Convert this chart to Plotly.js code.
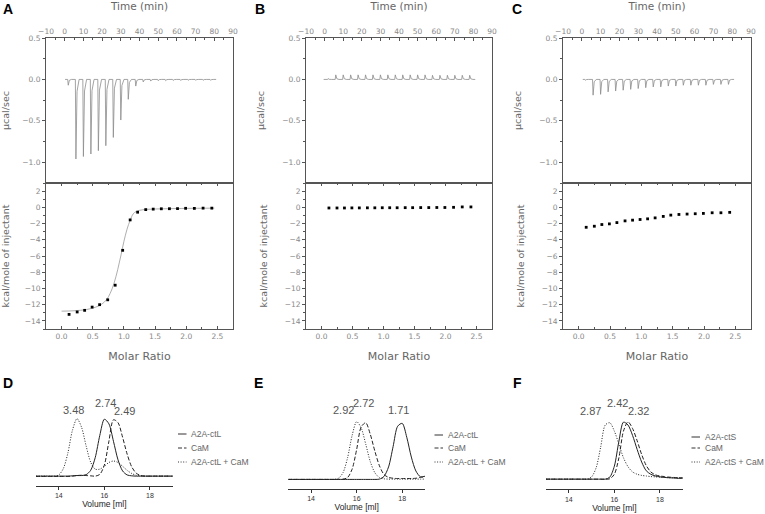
<!DOCTYPE html>
<html>
<head>
<meta charset="utf-8">
<script src="https://cdn.plot.ly/plotly-3.0.1.min.js"></script>
<style>
  html, body { margin: 0; padding: 0; background: #fff; }
  #myDiv { width: 765px; height: 514px; }
</style>
</head>
<body>
<div id="myDiv"></div>
<script>
// ITC raw data: injection times (min) and peak heights (ucal/sec)
var injTimes = [1.6, 5.7, 9.7, 13.7, 17.7, 21.7, 25.7, 29.7, 33.7, 37.7, 41.7, 45.7, 49.7, 53.7, 57.7, 61.7, 65.7, 69.7, 73.7, 77.7];
var peaksA = [-0.07, -0.96, -0.93, -0.90, -0.86, -0.80, -0.70, -0.49, -0.24, -0.08, -0.03, -0.02, -0.015, -0.015, -0.012, -0.012, -0.01, -0.01, -0.01, -0.01];
var peaksB = [0.01, 0.055, 0.055, 0.055, 0.055, 0.055, 0.055, 0.055, 0.055, 0.055, 0.055, 0.055, 0.055, 0.055, 0.05, 0.05, 0.05, 0.05, 0.05, 0.05];
var peaksC = [-0.01, -0.19, -0.18, -0.15, -0.14, -0.13, -0.12, -0.11, -0.10, -0.09, -0.09, -0.08, -0.08, -0.07, -0.07, -0.07, -0.07, -0.06, -0.06, -0.06];

// integrated heats (kcal/mole of injectant)
var molarRatio = [0.12, 0.25, 0.37, 0.49, 0.61, 0.74, 0.86, 0.98, 1.10, 1.22, 1.35, 1.47, 1.60, 1.73, 1.86, 1.99, 2.13, 2.27, 2.41];
var heatA = [-13.2, -12.9, -12.7, -12.3, -12.0, -11.4, -9.6, -5.3, -1.55, -0.6, -0.28, -0.22, -0.18, -0.17, -0.16, -0.12, -0.13, -0.1, -0.1];
var heatB = [-0.08, -0.08, -0.08, -0.07, -0.07, -0.06, -0.06, -0.05, -0.05, -0.05, -0.04, -0.04, -0.03, -0.03, -0.02, -0.02, 0.0, 0.05, 0.05];
var heatC = [-2.46, -2.33, -2.12, -2.04, -1.88, -1.67, -1.58, -1.5, -1.42, -1.3, -1.12, -0.96, -0.88, -0.83, -0.79, -0.75, -0.67, -0.67, -0.62];
var fitX = [0.0, 0.2, 0.4, 0.55, 0.65, 0.72, 0.78, 0.84, 0.9, 0.95, 1.0, 1.05, 1.1, 1.15, 1.2, 1.3, 1.45, 1.7, 2.0, 2.45];
var fitA = [-12.8, -12.75, -12.6, -12.3, -11.9, -11.4, -10.6, -9.4, -7.7, -6.0, -4.2, -2.7, -1.6, -0.8, -0.5, -0.3, -0.22, -0.17, -0.13, -0.1];

// SEC elution profiles (normalised absorbance)
var volume = [13.0, 13.2, 13.4, 13.6, 13.8, 14.0, 14.2, 14.4, 14.6, 14.8, 15.0, 15.2, 15.4, 15.6, 15.8, 16.0, 16.2, 16.4, 16.6, 16.8, 17.0, 17.2, 17.4, 17.6, 17.8, 18.0, 18.2, 18.4, 18.6, 18.8, 19.0];
var ctL_D = [0.01, 0.01, 0.01, 0.01, 0.01, 0.01, 0.01, 0.01, 0.015, 0.02, 0.02, 0.035, 0.11, 0.33, 0.71, 0.99, 0.91, 0.61, 0.29, 0.10, 0.03, 0.015, 0.01, 0.01, 0.01, 0.01, 0.01, 0.01, 0.01, 0.01, 0.01];
var cam_D = [0.005, 0.005, 0.005, 0.005, 0.005, 0.005, 0.005, 0.005, 0.01, 0.02, 0.025, 0.02, 0.015, 0.01, 0.04, 0.2, 0.61, 0.98, 0.93, 0.68, 0.39, 0.17, 0.06, 0.02, 0.01, 0.01, 0.01, 0.01, 0.01, 0.01, 0.01];
var mix_D = [0.01, 0.01, 0.01, 0.01, 0.01, 0.03, 0.14, 0.41, 0.80, 1.0, 0.85, 0.53, 0.25, 0.13, 0.13, 0.18, 0.245, 0.27, 0.245, 0.18, 0.11, 0.056, 0.025, 0.015, 0.01, 0.01, 0.01, 0.01, 0.01, 0.01, 0.01];
var ctL_E = [0.005, 0.005, 0.005, 0.005, 0.005, 0.005, 0.005, 0.005, 0.005, 0.005, 0.005, 0.005, 0.005, 0.005, 0.005, 0.005, 0.005, 0.005, 0.005, 0.005, 0.01, 0.056, 0.22, 0.57, 0.92, 0.97, 0.73, 0.39, 0.15, 0.05, 0.06];
var cam_E = [0.005, 0.005, 0.005, 0.005, 0.005, 0.005, 0.005, 0.005, 0.005, 0.005, 0.005, 0.005, 0.01, 0.037, 0.18, 0.52, 0.91, 0.98, 0.78, 0.49, 0.24, 0.09, 0.04, 0.025, 0.02, 0.02, 0.02, 0.02, 0.025, 0.04, 0.05];
var mix_E = [0.005, 0.005, 0.005, 0.005, 0.005, 0.005, 0.005, 0.005, 0.005, 0.005, 0.005, 0.024, 0.12, 0.375, 0.76, 1.0, 0.89, 0.61, 0.31, 0.12, 0.036, 0.015, 0.01, 0.01, 0.01, 0.01, 0.01, 0.01, 0.01, 0.01, 0.01];
var ctS_F = [0.005, 0.005, 0.005, 0.005, 0.005, 0.005, 0.005, 0.005, 0.005, 0.005, 0.005, 0.005, 0.005, 0.005, 0.04, 0.23, 0.66, 0.99, 0.94, 0.76, 0.52, 0.30, 0.15, 0.09, 0.06, 0.045, 0.035, 0.03, 0.025, 0.02, 0.02];
var cam_F = [0.005, 0.005, 0.005, 0.005, 0.005, 0.005, 0.005, 0.005, 0.005, 0.005, 0.005, 0.005, 0.005, 0.005, 0.011, 0.09, 0.375, 0.835, 0.995, 0.88, 0.67, 0.43, 0.24, 0.13, 0.08, 0.06, 0.05, 0.04, 0.035, 0.03, 0.03];
var mix_F = [0.005, 0.005, 0.005, 0.005, 0.005, 0.005, 0.005, 0.005, 0.005, 0.005, 0.044, 0.2, 0.56, 0.94, 0.98, 0.835, 0.61, 0.375, 0.22, 0.13, 0.09, 0.07, 0.06, 0.05, 0.045, 0.04, 0.035, 0.03, 0.03, 0.025, 0.025];

var peakLabelsD = ['3.48', '2.74', '2.49'];
var peakLabelsE = ['2.92', '2.72', '1.71'];
var peakLabelsF = ['2.87', '2.42', '2.32'];
var legendD = ['A2A-ctL', 'CaM', 'A2A-ctL + CaM'];
var legendF = ['A2A-ctS', 'CaM', 'A2A-ctS + CaM'];

var W = 765, H = 514;
function px(x) { return x / W; }
function py(y) { return 1 - y / H; }

var DASH = '4px,2px', DOT = '1px,1.6px';

// build a thermogram line from injection peaks
function thermogram(peaks, tStart, tEnd, xa, ya) {
  var x = [tStart], y = [0];
  for (var i = 0; i < injTimes.length; i++) {
    var t = injTimes[i], p = peaks[i];
    x.push(t, t + 0.3, t + 0.9, t + 2.0);
    y.push(0, p, p * 0.15, 0);
  }
  x.push(tEnd); y.push(0);
  return {x: x, y: y, xaxis: xa, yaxis: ya, type: 'scatter', mode: 'lines',
    line: {color: '#8c8c8c', width: 0.8}, hoverinfo: 'skip'};
}

function points(vals, xa, ya) {
  return {x: molarRatio, y: vals, xaxis: xa, yaxis: ya, type: 'scatter', mode: 'markers',
    marker: {symbol: 'square', size: 2.8, color: '#000'}};
}

function secLine(vals, dash, xa, ya) {
  return {x: volume, y: vals, xaxis: xa, yaxis: ya, type: 'scatter', mode: 'lines',
    line: {color: '#222', width: 1, dash: dash, shape: 'spline', smoothing: 0.8}};
}

var data = [
  thermogram(peaksA, 0.2, 81, 'x', 'y'),
  {x: fitX, y: fitA, xaxis: 'x2', yaxis: 'y2', type: 'scatter', mode: 'lines',
    line: {color: '#999', width: 0.8, shape: 'spline'}},
  points(heatA, 'x2', 'y2'),
  thermogram(peaksB, -0.5, 81, 'x3', 'y3'),
  points(heatB, 'x4', 'y4'),
  thermogram(peaksC, 0.5, 81, 'x5', 'y5'),
  points(heatC, 'x6', 'y6'),
  secLine(ctL_D, 'solid', 'x7', 'y7'),
  secLine(cam_D, DASH, 'x7', 'y7'),
  secLine(mix_D, DOT, 'x7', 'y7'),
  secLine(ctL_E, 'solid', 'x8', 'y8'),
  secLine(cam_E, DASH, 'x8', 'y8'),
  secLine(mix_E, DOT, 'x8', 'y8'),
  secLine(ctS_F, 'solid', 'x9', 'y9'),
  secLine(cam_F, DASH, 'x9', 'y9'),
  secLine(mix_F, DOT, 'x9', 'y9')
];

var tickFont = {family: 'DejaVu Sans', size: 7.5, color: '#888'};
var titleFont = {family: 'DejaVu Sans', size: 10.5, color: '#666'};

function timeAxis(dom, anchor) {
  return {domain: dom, anchor: anchor, side: 'top', range: [-10, 90], dtick: 10,
    ticks: 'inside', ticklen: 3, tickcolor: '#555', minor: {dtick: 5, ticks: 'inside', ticklen: 2, tickcolor: '#555'},
    showline: true, mirror: true, linecolor: '#555', linewidth: 1, showgrid: false, zeroline: false,
    tickfont: tickFont, title: {text: 'Time (min)', font: titleFont, standoff: 15}};
}
function ratioAxis(dom, anchor) {
  return {domain: dom, anchor: anchor, range: [-0.25, 2.75], dtick: 0.5, tickformat: '.1f',
    ticks: 'inside', ticklen: 3, tickcolor: '#555', minor: {dtick: 0.25, ticks: 'inside', ticklen: 2, tickcolor: '#555'},
    showline: true, mirror: 'ticks', linecolor: '#555', linewidth: 1, showgrid: false, zeroline: false,
    tickfont: tickFont, title: {text: 'Molar Ratio', font: {family: 'DejaVu Sans', size: 11, color: '#666'}, standoff: 12}};
}
function powerAxis(dom, anchor) {
  return {domain: dom, anchor: anchor, range: [-1.25, 0.5], dtick: 0.5, tickformat: '.1f',
    ticks: 'outside', ticklen: 3, tickcolor: '#555', minor: {dtick: 0.25, ticks: 'outside', ticklen: 2, tickcolor: '#555'},
    showline: true, mirror: true, linecolor: '#555', linewidth: 1, showgrid: false, zeroline: false,
    tickfont: tickFont, title: {text: 'µcal/sec', font: {family: 'DejaVu Sans', size: 9.5, color: '#666'}, standoff: 15}};
}
function heatAxis(dom, anchor) {
  return {domain: dom, anchor: anchor, range: [-15, 3], dtick: 2,
    ticks: 'outside', ticklen: 3, tickcolor: '#555', minor: {dtick: 1, ticks: 'outside', ticklen: 2, tickcolor: '#555'},
    showline: true, mirror: true, linecolor: '#555', linewidth: 1, showgrid: false, zeroline: false,
    tickfont: tickFont, title: {text: 'kcal/mole of injectant', font: {family: 'DejaVu Sans', size: 9.5, color: '#666'}, standoff: 15}};
}
function volAxis(dom, anchor) {
  return {domain: dom, anchor: anchor, range: [13, 19], dtick: 2, ticks: 'outside', ticklen: 3,
    tickcolor: '#333', showline: true, linecolor: '#333', linewidth: 1, showgrid: false, zeroline: false,
    tickfont: {family: 'Liberation Sans', size: 7, color: '#333'},
    title: {text: 'Volume [ml]', font: {family: 'Liberation Sans', size: 8.5, color: '#222'}, standoff: 1}};
}
function absAxis(dom, anchor, range) {
  return {domain: dom, anchor: anchor, range: range, visible: false, showgrid: false, zeroline: false};
}

var colA = [px(46), px(233)], colB = [px(306), px(492)], colC = [px(563), px(751)];
var topRow = [py(183), py(38)], botRow = [py(329), py(183)];

var layout = {
  width: W, height: H,
  margin: {l: 0, r: 0, t: 0, b: 0},
  paper_bgcolor: '#fff', plot_bgcolor: 'rgba(0,0,0,0)',
  showlegend: false,
  font: {family: 'DejaVu Sans'},
  xaxis: timeAxis(colA, 'y'), yaxis: powerAxis(topRow, 'x'),
  xaxis2: ratioAxis(colA, 'y2'), yaxis2: heatAxis(botRow, 'x2'),
  xaxis3: timeAxis(colB, 'y3'), yaxis3: powerAxis(topRow, 'x3'),
  xaxis4: ratioAxis(colB, 'y4'), yaxis4: heatAxis(botRow, 'x4'),
  xaxis5: timeAxis(colC, 'y5'), yaxis5: powerAxis(topRow, 'x5'),
  xaxis6: ratioAxis(colC, 'y6'), yaxis6: heatAxis(botRow, 'x6'),
  xaxis7: volAxis([px(36), px(172.7)], 'y7'), yaxis7: absAxis([py(486), py(407)], 'x7', [-0.16, 1.2]),
  xaxis8: volAxis([px(288.3), px(425)], 'y8'), yaxis8: absAxis([py(489), py(410)], 'x8', [-0.16, 1.2]),
  xaxis9: volAxis([px(546), px(682.7)], 'y9'), yaxis9: absAxis([py(489.3), py(410)], 'x9', [-0.17, 1.2]),
  annotations: [],
  shapes: []
};

// panel letters
var letters = [['A', 8, 9], ['B', 260, 9], ['C', 517, 9], ['D', 8, 383], ['E', 258, 383], ['F', 517, 383]];
letters.forEach(function (l) {
  layout.annotations.push({text: '<b>' + l[0] + '</b>', x: px(l[1]), y: py(l[2]), xref: 'paper', yref: 'paper',
    showarrow: false, xanchor: 'center', yanchor: 'middle',
    font: {family: 'Liberation Sans', size: 14, color: '#000'}});
});

// peak labels above SEC profiles
function peakLabels(labels, pos) {
  labels.forEach(function (t, i) {
    layout.annotations.push({text: t, x: px(pos[i][0]), y: py(pos[i][1]), xref: 'paper', yref: 'paper',
      showarrow: false, xanchor: 'center', yanchor: 'middle',
      font: {family: 'Liberation Sans', size: 11, color: '#555'}});
  });
}
peakLabels(peakLabelsD, [[73, 410], [105, 403], [124, 411]]);
peakLabels(peakLabelsE, [[343, 410], [363, 403], [398, 410]]);
peakLabels(peakLabelsF, [[590, 411], [617, 403], [638, 411]]);

// small legends beside SEC panels
var dashes = ['solid', DASH, DOT];
function secLegend(labels, x0, rows) {
  labels.forEach(function (t, i) {
    layout.shapes.push({type: 'line', xref: 'paper', yref: 'paper',
      x0: px(x0), x1: px(x0 + 8.5), y0: py(rows[i]), y1: py(rows[i]),
      line: {color: '#333', width: 1, dash: dashes[i]}});
    layout.annotations.push({text: t, x: px(x0 + 11), y: py(rows[i]), xref: 'paper', yref: 'paper',
      showarrow: false, xanchor: 'left', yanchor: 'middle',
      font: {family: 'Liberation Sans', size: 8.5, color: '#666'}});
  });
}
secLegend(legendD, 178, [434, 448, 462]);
secLegend(legendD, 434.5, [435, 448, 462]);
secLegend(legendF, 691.5, [437, 448, 462]);

Plotly.newPlot('myDiv', data, layout, {staticPlot: true});
</script>
</body>
</html>
